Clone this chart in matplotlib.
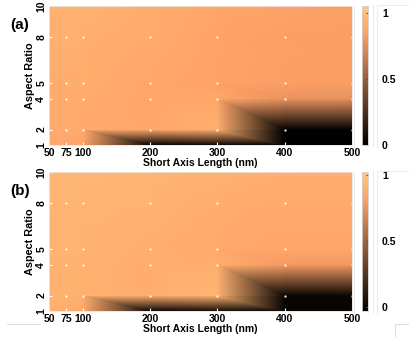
import matplotlib
matplotlib.use("Agg")
import matplotlib.pyplot as plt
import matplotlib.tri as mtri
import numpy as np
from matplotlib.lines import Line2D

# short axis length (nm) and aspect ratio grid
short_axis = [50, 75, 100, 200, 300, 400, 500]
aspect = [1, 2, 4, 5, 8, 10]

# normalised response, rows follow `aspect`, columns follow `short_axis`
vals_a = [
    [0.88, 0.88, 0.86, 0.00, 0.03, 0.00, 0.00],
    [0.90, 0.90, 0.90, 0.88, 0.92, 0.00, 0.00],
    [0.90, 0.90, 0.90, 0.87, 0.88, 0.78, 0.77],
    [0.91, 0.91, 0.91, 0.88, 0.85, 0.84, 0.83],
    [0.92, 0.92, 0.92, 0.90, 0.86, 0.84, 0.83],
    [0.93, 0.93, 0.93, 0.91, 0.87, 0.85, 0.84],
]
vals_b = [
    [0.88, 0.88, 0.86, 0.00, 0.03, 0.00, 0.00],
    [0.90, 0.90, 0.90, 0.88, 0.92, 0.00, 0.00],
    [0.90, 0.90, 0.90, 0.88, 0.89, 0.79, 0.78],
    [0.91, 0.91, 0.91, 0.89, 0.87, 0.85, 0.85],
    [0.92, 0.92, 0.92, 0.91, 0.88, 0.87, 0.87],
    [0.93, 0.93, 0.93, 0.92, 0.90, 0.89, 0.89],
]

# sample points marked on the maps
dot_x = [75, 100, 200, 300, 400, 500]
dot_y = [2, 4, 5, 8]

xticks = [50, 75, 100, 200, 300, 400, 500]
yticks = [1, 2, 4, 5, 8, 10]
cbar_ticks = [0, 0.5, 1]

plt.rcParams["font.family"] = ["Liberation Sans", "DejaVu Sans"]
plt.rcParams["font.weight"] = "bold"


def grid_triangulation(xs, ys):
    # split every cell along its upper-left / lower-right diagonal
    X, Y = np.meshgrid(xs, ys)
    nx = len(xs)
    tris = []
    for j in range(len(ys) - 1):
        for i in range(nx - 1):
            ll = j * nx + i
            lr = ll + 1
            ul = ll + nx
            ur = ul + 1
            tris.append([ll, lr, ul])
            tris.append([lr, ur, ul])
    return mtri.Triangulation(X.ravel(), Y.ravel(), tris)


fig = plt.figure(figsize=(4.10, 3.37), dpi=100, facecolor="white")

W, H = 410.0, 337.0
panels = [
    ("(a)", vals_a, 6, (0.0, 1.05)),
    ("(b)", vals_b, 172, (-0.03, 1.023)),
]
tri = grid_triangulation(short_axis, aspect)

for label, vals, top_px, (vmin, vmax) in panels:
    ax = fig.add_axes([49 / W, 1 - (top_px + 139) / H, 303 / W, 139 / H])
    mesh = ax.tripcolor(tri, np.array(vals).ravel(), shading="gouraud", cmap="copper",
                        vmin=vmin, vmax=vmax)
    dx, dy = np.meshgrid(dot_x, dot_y)
    ax.plot(dx.ravel(), dy.ravel(), "s", color="white", ms=1.4, mew=0, clip_on=False)
    ax.set_xlim(50, 500)
    ax.set_ylim(1, 10)
    ax.set_xticks(xticks)
    ax.set_yticks(yticks)
    ax.set_xticklabels([str(t) for t in xticks], fontsize=7.5, fontweight="bold")
    ax.set_yticklabels([str(t) for t in yticks], fontsize=7.5, fontweight="bold",
                       rotation=90, va="center")
    ax.tick_params(direction="in", length=2, color="white", pad=2)
    for sp in ax.spines.values():
        sp.set_color("#e6e6e6")
        sp.set_linewidth(0.6)
    ax.set_xlabel("Short Axis Length (nm)", fontsize=7.5, fontweight="bold", labelpad=0)
    ax.set_ylabel("Aspect Ratio", fontsize=7.8, fontweight="bold", labelpad=1)
    fig.text(10 / W, 1 - (top_px + 19) / H, label, fontsize=11, fontweight="bold",
             ha="left", va="center")

    cax = fig.add_axes([362 / W, 1 - (top_px + 139) / H, 6 / W, 139 / H])
    cb = fig.colorbar(mesh, cax=cax, ticks=cbar_ticks)
    cb.outline.set_edgecolor("#d0d0d0")
    cb.outline.set_linewidth(0.6)
    cax.tick_params(direction="in", length=1.5, color="#555555", pad=10, labelsize=7.5)
    cax.set_yticklabels(["0", "0.5", "1"], fontweight="bold")

    # faint frames left over around the colorbar and its labels
    y0 = 1 - (top_px + 141) / H
    y1 = 1 - (top_px - 1) / H
    for xp in (354, 373, 377):
        fig.add_artist(Line2D([xp / W, xp / W], [y0, y1], color="#e8e8e8", lw=0.6))
    fig.add_artist(Line2D([377 / W, 1.0], [y1, y1], color="#e8e8e8", lw=0.6))

fig.add_artist(Line2D([7 / W, 40 / W], [1 - 324 / H, 1 - 324 / H], color="#d8d8d8", lw=0.6))
fig.add_artist(Line2D([395 / W, 395 / W], [0, 1 - 324 / H], color="#d8d8d8", lw=0.6))
fig.add_artist(Line2D([395 / W, 1.0], [1 - 324 / H, 1 - 324 / H], color="#d8d8d8", lw=0.6))

fig.savefig("out.png", dpi=100, facecolor="white")
